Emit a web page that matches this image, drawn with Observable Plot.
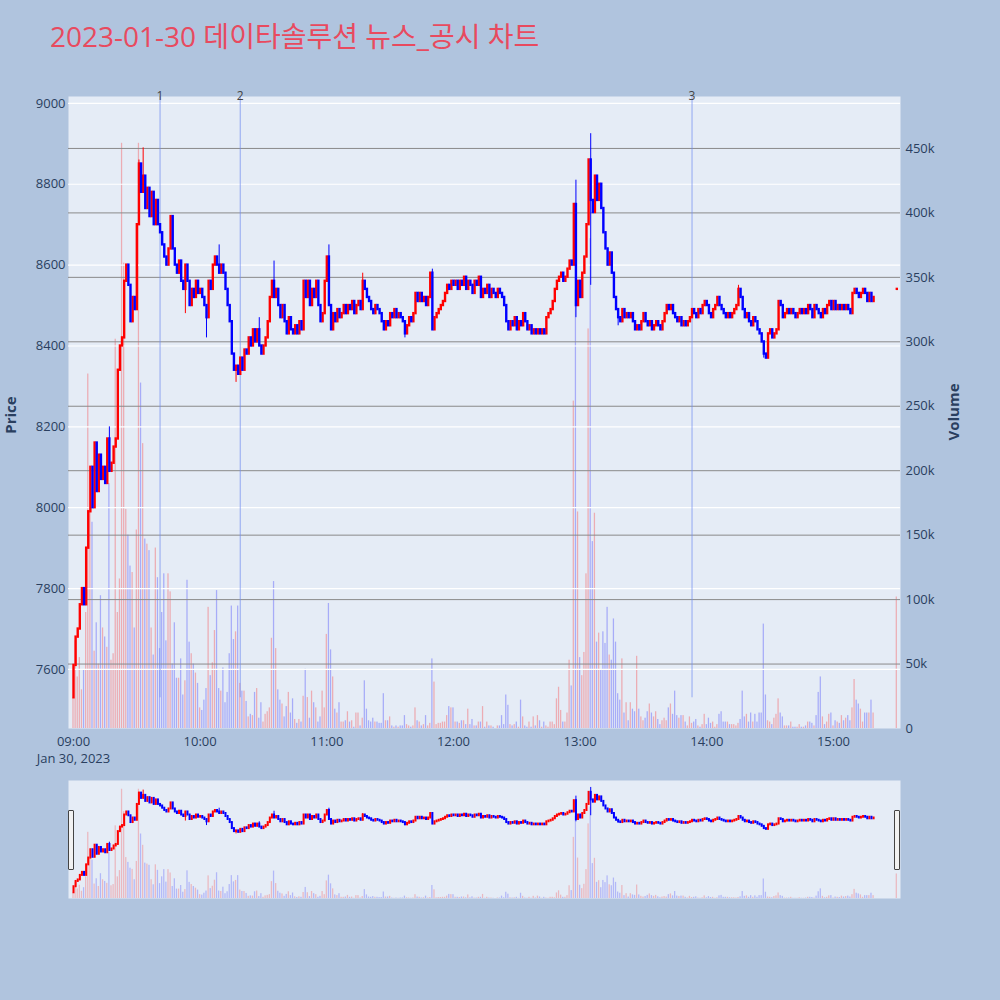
<!DOCTYPE html>
<html>
<head>
<meta charset="utf-8">
<script src="https://cdn.jsdelivr.net/npm/d3@7"></script>
<script src="https://cdn.jsdelivr.net/npm/@observablehq/plot@0.6"></script>
<style>
  body { margin: 0; background: #b0c4de; font-family: "Open Sans", "Noto Sans CJK KR", sans-serif; }
  #page { position: relative; width: 1000px; height: 1000px; overflow: hidden; }
  #title { position: absolute; left: 50px; top: 20px; font-size: 28px; line-height: 1.2; color: #e84a5f; white-space: nowrap; }
  .layer { position: absolute; left: 0; }
  .axis-title { position: absolute; font-size: 15px; font-weight: bold; color: #2a3f5f; transform: translate(-50%, -50%) rotate(-90deg); }
  .grabber { position: absolute; top: 810px; width: 4px; height: 58px; background: #f2f2f2; border: 1px solid #444; border-radius: 1px; }
</style>
</head>
<body>
<div id="page">
  <div id="title">2023-01-30 데이타솔루션 뉴스_공시 차트</div>
  <div id="vol" class="layer" style="top:0"></div>
  <div id="price" class="layer" style="top:0"></div>
  <div id="sliderVol" class="layer" style="top:780px"></div>
  <div id="sliderPrice" class="layer" style="top:780px"></div>
  <div class="axis-title" style="left:10px; top:415px">Price</div>
  <div class="axis-title" style="left:953px; top:412px">Volume</div>
  <div class="grabber" style="left:68px"></div>
  <div class="grabber" style="left:894px"></div>
</div>
<script>
// one value per minute from 09:00 to 15:19
const closes = [
  7610, 7680, 7700, 7760, 7800, 7760, 7900, 7990, 8100, 8000,
  8160, 8040, 8130, 8070, 8100, 8060, 8170, 8090, 8110, 8150,
  8170, 8340, 8400, 8420, 8560, 8600, 8550, 8460, 8520, 8490,
  8700, 8850, 8780, 8820, 8740, 8790, 8720, 8780, 8700, 8760,
  8700, 8680, 8650, 8620, 8600, 8640, 8720, 8640, 8600, 8580,
  8610, 8560, 8540, 8600, 8560, 8500, 8540, 8520, 8560, 8530,
  8540, 8520, 8500, 8470, 8560, 8540, 8600, 8620, 8600, 8580,
  8600, 8580, 8540, 8500, 8460, 8380, 8340, 8350, 8330, 8370,
  8340, 8390, 8380, 8420, 8400, 8440, 8410, 8440, 8400, 8380,
  8400, 8420, 8460, 8520, 8560, 8520, 8540, 8500, 8470, 8500,
  8460, 8430, 8470, 8440, 8430, 8450, 8430, 8460, 8440, 8560,
  8520, 8560, 8500, 8540, 8520, 8560, 8500, 8460, 8480, 8560,
  8620, 8500, 8440, 8480, 8460, 8490, 8470, 8480, 8500, 8480,
  8500, 8490, 8510, 8480, 8500, 8510, 8490, 8560, 8540, 8520,
  8510, 8490, 8480, 8500, 8490, 8480, 8460, 8440, 8460, 8450,
  8480, 8470, 8490, 8470, 8480, 8470, 8460, 8430, 8450, 8470,
  8460, 8480, 8530, 8510, 8530, 8510, 8520, 8500, 8520, 8580,
  8440, 8470, 8480, 8490, 8500, 8510, 8530, 8550, 8540, 8560,
  8550, 8560, 8540, 8560, 8550, 8570, 8540, 8560, 8550, 8530,
  8560, 8550, 8570, 8520, 8540, 8530, 8550, 8520, 8540, 8530,
  8520, 8540, 8530, 8520, 8500, 8460, 8440, 8460, 8450, 8470,
  8440, 8460, 8450, 8480, 8460, 8440, 8450, 8430, 8440, 8430,
  8440, 8430, 8440, 8430, 8470, 8480, 8490, 8510, 8540, 8560,
  8570, 8580, 8560, 8570, 8590, 8610, 8600, 8750, 8500, 8560,
  8520, 8580, 8620, 8700, 8860, 8760, 8730, 8820, 8760, 8800,
  8740, 8680, 8640, 8600, 8630, 8580, 8520, 8490, 8470, 8460,
  8490, 8470, 8480, 8470, 8480, 8460, 8440, 8450, 8440, 8460,
  8480, 8460, 8450, 8460, 8440, 8450, 8460, 8450, 8440, 8460,
  8480, 8500, 8490, 8500, 8480, 8470, 8460, 8470, 8450, 8460,
  8450, 8460, 8470, 8490, 8480, 8470, 8490, 8480, 8500, 8510,
  8500, 8480, 8470, 8490, 8500, 8520, 8500, 8490, 8480, 8470,
  8480, 8470, 8480, 8490, 8500, 8540, 8520, 8490, 8470, 8480,
  8460, 8450, 8470, 8460, 8440, 8430, 8410, 8380, 8370, 8430,
  8440, 8420, 8430, 8440, 8510, 8500, 8470, 8480, 8490, 8480,
  8490, 8480, 8470, 8480, 8490, 8480, 8490, 8480, 8500, 8490,
  8470, 8500, 8490, 8480, 8470, 8490, 8480, 8500, 8510, 8490,
  8510, 8490, 8500, 8490, 8500, 8490, 8500, 8490, 8480, 8530,
  8540, 8530, 8520, 8530, 8540, 8530, 8510, 8530, 8510, 8520
];
const firstOpen = 7530;

// volume per minute, thousands of shares
const volumes = [
  24, 68, 40, 55, 30, 45, 90, 275, 171, 160,
  60, 82, 50, 103, 78, 71, 63, 190, 53, 58,
  302, 90, 116, 454, 361, 170, 150, 126, 121, 78,
  154, 454, 268, 221, 147, 143, 138, 78, 57, 140,
  117, 62, 90, 120, 68, 120, 106, 50, 82, 39,
  39, 54, 26, 37, 115, 67, 58, 50, 43, 35,
  16, 14, 22, 31, 94, 41, 51, 76, 107, 31,
  29, 47, 20, 28, 58, 95, 69, 75, 95, 35,
  29, 29, 21, 9, 11, 10, 28, 31, 8, 20,
  5, 11, 13, 16, 70, 114, 62, 30, 22, 19,
  9, 17, 28, 12, 23, 7, 4, 7, 5, 25,
  46, 24, 8, 29, 20, 16, 5, 9, 29, 16,
  73, 97, 61, 40, 15, 12, 20, 5, 5, 6,
  13, 5, 6, 1, 12, 12, 2, 8, 37, 15,
  6, 5, 8, 5, 5, 4, 4, 27, 6, 6,
  9, 2, 1, 2, 1, 2, 2, 10, 3, 2,
  1, 2, 16, 6, 5, 2, 3, 10, 2, 4,
  54, 36, 3, 4, 4, 5, 5, 10, 17, 16,
  16, 5, 5, 4, 6, 6, 3, 15, 3, 7,
  2, 2, 5, 5, 17, 1, 5, 2, 2, 1,
  0, 2, 2, 10, 3, 26, 18, 3, 2, 3,
  5, 1, 22, 9, 2, 1, 5, 1, 9, 2,
  10, 6, 1, 5, 2, 1, 5, 5, 3, 23,
  32, 14, 5, 5, 12, 53, 33, 254, 340, 168,
  55, 41, 59, 120, 310, 380, 145, 167, 67, 74,
  45, 75, 66, 94, 57, 53, 85, 67, 27, 22,
  54, 12, 20, 6, 20, 15, 13, 56, 15, 9,
  6, 8, 13, 19, 12, 9, 13, 7, 3, 6,
  8, 6, 16, 19, 11, 29, 10, 8, 10, 10,
  5, 2, 9, 4, 5, 7, 2, 1, 3, 11,
  3, 8, 4, 5, 1, 3, 11, 13, 5, 5,
  5, 3, 3, 3, 2, 4, 7, 29, 9, 11,
  5, 12, 5, 11, 5, 12, 12, 81, 26, 6,
  5, 3, 8, 11, 23, 12, 9, 2, 2, 2,
  5, 1, 1, 1, 3, 1, 1, 2, 5, 5,
  4, 2, 10, 28, 40, 9, 3, 5, 11, 12,
  2, 6, 5, 4, 10, 6, 8, 10, 6, 16,
  38, 22, 19, 15, 5, 12, 12, 12, 22, 12
];

// long wicks seen on the picture (minute index after 09:00)
const wicks = [
  {min: 17, high: 8200}, {min: 31, high: 8860}, {min: 33, high: 8890},
  {min: 53, low: 8480}, {min: 63, low: 8420}, {min: 69, high: 8650},
  {min: 77, low: 8310}, {min: 88, high: 8470}, {min: 95, high: 8610},
  {min: 121, high: 8650}, {min: 137, high: 8580}, {min: 157, low: 8420},
  {min: 170, high: 8590}, {min: 238, high: 8810, low: 8470},
  {min: 245, high: 8925, low: 8550}, {min: 258, low: 8450},
  {min: 315, high: 8550}, {min: 327, low: 8370}, {min: 328, low: 8370}
];

const closingAuction = {time: "15:30", price: 8540, volume: 102};

const newsTimes = ["09:41", "10:19", "13:53"];
const newsLabels = ["1", "2", "3"];

const priceTicks = [7600, 7800, 8000, 8200, 8400, 8600, 8800, 9000];
const volumeTicks = [0, 50, 100, 150, 200, 250, 300, 350, 400, 450];
const hourTicks = ["09:00", "10:00", "11:00", "12:00", "13:00", "14:00", "15:00"];
const tradeDate = "2023-01-30";
const dateLabel = "Jan 30, 2023";

const priceDomain = [7454, 9017];
const volumeDomain = [0, 490.3];

const parseTime = d3.utcParse("%Y-%m-%d %H:%M:%S");
const at = s => parseTime(`${tradeDate} ${s.length === 5 ? s + ":00" : s}`);
const minute = 60000;
const start = at("09:00");
const xDomain = [at("08:57:38"), at("15:31:45")];

const candles = closes.map((close, i) => {
  const open = i === 0 ? firstOpen : closes[i - 1];
  const w = wicks.find(d => d.min === i) || {};
  return {
    time: new Date(+start + i * minute),
    open, close,
    high: Math.max(open, close, w.high ?? -Infinity),
    low: Math.min(open, close, w.low ?? Infinity),
    volume: volumes[i]
  };
});
candles.push({
  time: at(closingAuction.time),
  open: closingAuction.price, close: closingAuction.price,
  high: closingAuction.price, low: closingAuction.price,
  volume: closingAuction.volume
});
candles.forEach(d => d.up = d.close >= d.open);
const up = candles.filter(d => d.up);
const down = candles.filter(d => !d.up);
const dayLow = d3.min(candles, d => d.low);

const RED = "#ff0000", BLUE = "#0000ff";
const hourFmt = d3.utcFormat("%H:%M");

function volumeMarks(opacity) {
  const bar = {
    x1: d => new Date(+d.time - 0.3 * minute),
    x2: d => new Date(+d.time + 0.3 * minute),
    y1: d => 0, y2: "volume"
  };
  return [
    Plot.rect(up, {...bar, fill: RED, fillOpacity: opacity}),
    Plot.rect(down, {...bar, fill: BLUE, fillOpacity: opacity})
  ];
}

function candleMarks(bodyWidth) {
  return [
    Plot.ruleX(up, {x: "time", y1: "low", y2: "high", stroke: RED, strokeWidth: 1}),
    Plot.ruleX(down, {x: "time", y1: "low", y2: "high", stroke: BLUE, strokeWidth: 1}),
    Plot.ruleX(up, {x: "time", y1: "open", y2: "close", stroke: RED, strokeWidth: bodyWidth, strokeLinecap: "square"}),
    Plot.ruleX(down, {x: "time", y1: "open", y2: "close", stroke: BLUE, strokeWidth: bodyWidth, strokeLinecap: "square"})
  ];
}

const style = {
  background: "transparent",
  color: "#2a3f5f",
  fontFamily: "Open Sans, Noto Sans CJK KR, sans-serif",
  fontSize: "13px",
  overflow: "visible"
};

// main chart: volume layer underneath
const volChart = Plot.plot({
  width: 1000, height: 780,
  marginTop: 96, marginBottom: 52, marginLeft: 68, marginRight: 100,
  x: {type: "utc", domain: xDomain, axis: null},
  y: {
    domain: volumeDomain, axis: "right", ticks: volumeTicks,
    tickFormat: d => d === 0 ? "0" : d + "k",
    tickSize: 0, tickPadding: 5, label: null
  },
  marks: [
    Plot.frame({fill: "#e5ecf6", stroke: "none"}),
    ...volumeMarks(0.27),
    Plot.ruleY(volumeTicks.filter(d => d > 0), {stroke: "#8a8a8a", strokeWidth: 1})
  ],
  style
});
d3.select("#vol").append(() => volChart);

// main chart: price layer on top
const priceChart = Plot.plot({
  width: 1000, height: 780,
  marginTop: 96, marginBottom: 52, marginLeft: 68, marginRight: 100,
  x: {
    type: "utc", domain: xDomain,
    ticks: hourTicks.map(at), tickFormat: hourFmt,
    tickSize: 0, tickPadding: 8, label: null
  },
  y: {
    domain: priceDomain, ticks: priceTicks, tickFormat: d => String(d),
    tickSize: 0, tickPadding: 3, label: null
  },
  marks: [
    Plot.ruleY(priceTicks, {stroke: "white", strokeWidth: 1.2}),
    Plot.ruleX(newsTimes, {x: d => at(d), y1: dayLow, y2: priceDomain[1], stroke: "#6f8cf0", strokeOpacity: 0.6, strokeWidth: 1.2}),
    ...candleMarks(2.4),
    Plot.text(newsLabels, {
      x: (d, i) => at(newsTimes[i]), frameAnchor: "top", lineAnchor: "middle",
      text: d => d, fill: "#444", fontSize: 12
    }),
    Plot.text([dateLabel], {
      x: () => start, frameAnchor: "bottom", lineAnchor: "middle", dy: 30,
      text: d => d, fontSize: 13
    })
  ],
  style
});
d3.select("#price").append(() => priceChart);

// range slider
const sliderOpts = {
  width: 1000, height: 118,
  marginTop: 0, marginBottom: 0, marginLeft: 68, marginRight: 100,
  style
};
const sliderVol = Plot.plot({
  ...sliderOpts,
  x: {type: "utc", domain: xDomain, axis: null},
  y: {domain: volumeDomain, axis: null},
  marks: [
    Plot.frame({fill: "#e5ecf6", stroke: "none"}),
    ...volumeMarks(0.22)
  ]
});
d3.select("#sliderVol").append(() => sliderVol);

const sliderPrice = Plot.plot({
  ...sliderOpts,
  x: {type: "utc", domain: xDomain, axis: null},
  y: {domain: priceDomain, axis: null},
  marks: candleMarks(2)
});
d3.select("#sliderPrice").append(() => sliderPrice);
</script>
</body>
</html>
